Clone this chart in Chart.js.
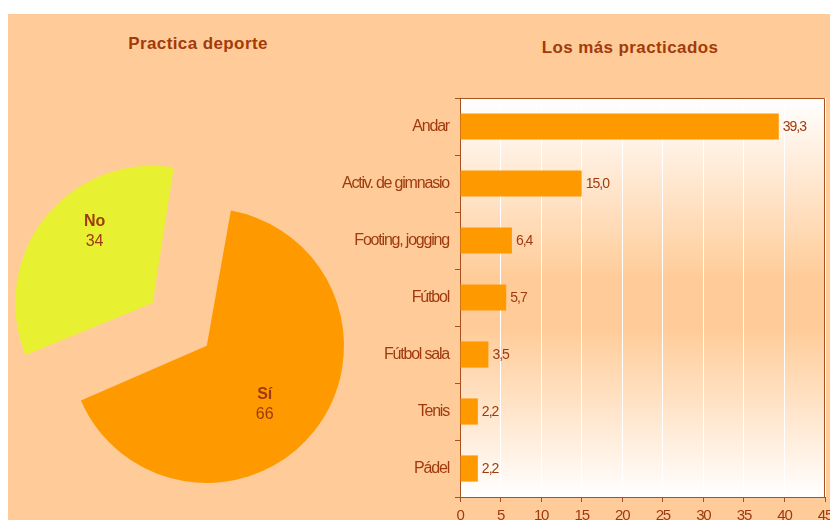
<!DOCTYPE html>
<html>
<head>
<meta charset="utf-8">
<script src="https://cdn.jsdelivr.net/npm/chart.js@4.4.1/dist/chart.umd.min.js"></script>
<style>
html, body { margin:0; padding:0; background:#fff; overflow:hidden; }
#panel { position:absolute; left:8px; top:14px; width:822px; height:506px; background:#FFCC99; overflow:hidden; }
.title { position:absolute; font-family:"Liberation Sans", Arial, sans-serif; font-weight:bold; font-size:17px; line-height:20px; letter-spacing:0.4px; color:#A33A0A; white-space:nowrap; transform:translateX(-50%); }
#pie { position:absolute; left:0; top:0; }
#bars { position:absolute; left:322px; top:0; }
</style>
</head>
<body>
<div id="panel">
  <div class="title" style="left:190px; top:20px;">Practica deporte</div>
  <div class="title" style="left:622px; top:24px;">Los más practicados</div>
  <canvas id="pie" width="383" height="652"></canvas>
  <canvas id="bars" width="520" height="540"></canvas>
</div>
<script>
/* Data */
const pieLabels = ["Sí", "No"];
const pieValues = [66, 34];
const pieColors = ["#FF9900", "#E8F032"];

const sports = ["Andar", "Activ. de gimnasio", "Footing, jogging", "Fútbol", "Fútbol sala", "Tenis", "Pádel"];
const sportValues = [39.3, 15.0, 6.4, 5.7, 3.5, 2.2, 2.2];

const xMin = 0;
const xMax = 45;
const xStep = 5;

/* Styles */
const brown = "#9E3A0E";
const axisColor = "#A8501E";
const sans = "'Liberation Sans', Arial, sans-serif";

function fmt(v){
    return v.toFixed(1).replace(".", ",");
}

/* Pie labels: name in bold, value below */
const pieLabelPlugin = {
    id: "pieLabels",
    afterDatasetsDraw: function(chart){
        const ctx = chart.ctx;
        const meta = chart.getDatasetMeta(0);
        meta.data.forEach(function(arc, i){
            const p = arc.getProps(["x", "y", "startAngle", "endAngle", "outerRadius", "circumference"], true);
            // same shift and radius growth that the arc gets from its offset
            const off = (arc.options.offset || 0) / 4;
            const fix = 1 - Math.sin(Math.min(Math.PI, p.circumference));
            const mid = (p.startAngle + p.endAngle) / 2;
            const cx = p.x + Math.cos(mid) * off;
            const cy = p.y + Math.sin(mid) * off;
            const rad = p.outerRadius + off * fix;
            const a = mid + 10 * Math.PI / 180;
            const r = rad * 0.635;
            const lx = cx + Math.cos(a) * r;
            const ly = cy + Math.sin(a) * r - 6;
            ctx.save();
            ctx.fillStyle = brown;
            ctx.textAlign = "center";
            ctx.textBaseline = "middle";
            ctx.font = "bold 16px " + sans;
            ctx.fillText(chart.data.labels[i], lx, ly - 10);
            ctx.font = "16px " + sans;
            ctx.fillText(String(chart.data.datasets[0].data[i]), lx, ly + 10);
            ctx.restore();
        });
    }
};

/* Condensed look for the bar chart texts */
const tightText = {
    id: "tightText",
    beforeUpdate: function(chart){ chart.ctx.letterSpacing = "-1.2px"; },
    beforeDraw: function(chart){ chart.ctx.letterSpacing = "-1.2px"; }
};

/* Plot background gradient and frame */
const plotBg = {
    id: "plotBg",
    beforeDraw: function(chart){
        const a = chart.chartArea;
        const ctx = chart.ctx;
        const g = ctx.createLinearGradient(0, a.top, 0, a.bottom);
        g.addColorStop(0, "#FFFFFF");
        g.addColorStop(0.45, "#FFCC99");
        g.addColorStop(0.58, "#FFCC99");
        g.addColorStop(1, "#FFFFFF");
        ctx.save();
        ctx.fillStyle = g;
        ctx.fillRect(a.left, a.top, a.right - a.left, a.bottom - a.top);
        ctx.restore();
    },
    afterDatasetsDraw: function(chart){
        const a = chart.chartArea;
        const ctx = chart.ctx;
        ctx.save();
        ctx.strokeStyle = axisColor;
        ctx.lineWidth = 1;
        ctx.beginPath();
        ctx.moveTo(a.left, a.top + 0.5);
        ctx.lineTo(a.right - 0.5, a.top + 0.5);
        ctx.lineTo(a.right - 0.5, a.bottom);
        ctx.stroke();
        ctx.restore();
    }
};

/* Value labels at bar ends */
const barLabels = {
    id: "barLabels",
    afterDatasetsDraw: function(chart){
        const ctx = chart.ctx;
        const meta = chart.getDatasetMeta(0);
        ctx.save();
        ctx.fillStyle = brown;
        ctx.textAlign = "left";
        ctx.textBaseline = "middle";
        ctx.font = "14px " + sans;
        ctx.letterSpacing = "-1px";
        meta.data.forEach(function(bar, i){
            ctx.fillText(fmt(chart.data.datasets[0].data[i]), bar.x + 4, bar.y + 1);
        });
        ctx.restore();
    }
};

new Chart(document.getElementById("pie"), {
    type: "pie",
    data: {
        labels: pieLabels,
        datasets: [{
            data: pieValues,
            backgroundColor: pieColors,
            borderWidth: 0,
            offset: [37, 239]
        }]
    },
    options: {
        responsive: false,
        animation: false,
        rotation: 9.5,
        radius: 128,
        layout: { padding: 0 },
        plugins: {
            legend: { display: false },
            tooltip: { enabled: false }
        }
    },
    plugins: [pieLabelPlugin]
});

new Chart(document.getElementById("bars"), {
    type: "bar",
    data: {
        labels: sports,
        datasets: [{
            data: sportValues,
            backgroundColor: "#FF9900",
            borderWidth: 0,
            barPercentage: 0.46,
            categoryPercentage: 1
        }]
    },
    options: {
        indexAxis: "y",
        responsive: false,
        animation: false,
        layout: { padding: { top: 84, right: 25, bottom: 17, left: 0 } },
        plugins: {
            legend: { display: false },
            tooltip: { enabled: false }
        },
        scales: {
            x: {
                min: xMin,
                max: xMax,
                ticks: { stepSize: xStep, color: brown, font: { family: sans, size: 15 }, padding: 5 },
                grid: {
                    color: function(c){ return (c.tick && c.tick.value === xMin) ? "rgba(0,0,0,0)" : "#FFFFFF"; },
                    tickColor: axisColor,
                    tickLength: 5,
                    lineWidth: 1
                },
                border: { color: axisColor, width: 1 },
                afterFit: function(s){ s.height = 40; }
            },
            y: {
                ticks: { color: brown, font: { family: sans, size: 16 }, padding: 6 },
                grid: { offset: true, drawOnChartArea: false, tickColor: axisColor, tickLength: 5 },
                border: { color: axisColor, width: 1 },
                afterFit: function(s){ s.width = 130; }
            }
        }
    },
    plugins: [tightText, plotBg, barLabels]
});
</script>
</body>
</html>
